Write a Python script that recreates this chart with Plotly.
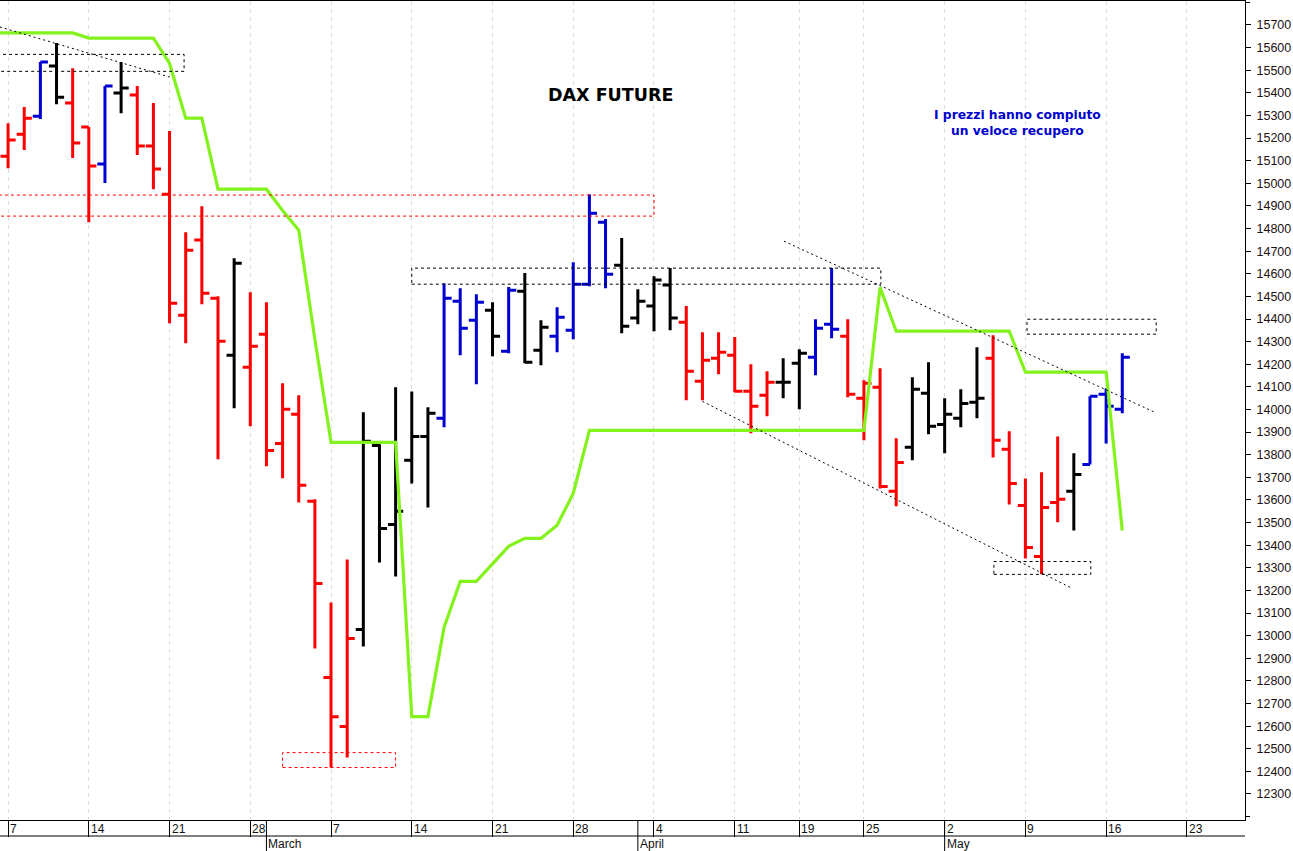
import plotly.graph_objects as go

# ---------------- data ----------------
dates = ["02-04",
         "02-07", "02-08", "02-09", "02-10", "02-11",
         "02-14", "02-15", "02-16", "02-17", "02-18",
         "02-21", "02-22", "02-23", "02-24", "02-25",
         "02-28", "03-01", "03-02", "03-03", "03-04",
         "03-07", "03-08", "03-09", "03-10", "03-11",
         "03-14", "03-15", "03-16", "03-17", "03-18",
         "03-21", "03-22", "03-23", "03-24", "03-25",
         "03-28", "03-29", "03-30", "03-31", "04-01",
         "04-04", "04-05", "04-06", "04-07", "04-08",
         "04-11", "04-12", "04-13", "04-14",
         "04-19", "04-20", "04-21", "04-22",
         "04-25", "04-26", "04-27", "04-28", "04-29",
         "05-02", "05-03", "05-04", "05-05", "05-06",
         "05-09", "05-10", "05-11", "05-12", "05-13",
         "05-16", "05-17"]

opens = [15180,
         15120, 15217, 15297, 15519, 15355,
         15249, 15085, 15399, 15390, 15165,
         14952, 14417, 14749, 14492, 14240,
         14187, 14333, 13850, 13979, 13594,
         12815, 12598, 13027, 13841, 13492,
         13775, 13881, 13961, 14479, 14395,
         14439, 14258, 14523, 14262, 14324,
         14350, 14554, 14828, 14638, 14404,
         14457, 14550, 14386, 14125, 14227,
         14240, 14081, 14063, 14120,
         14204, 14231, 14377, 14324,
         14050, 14098, 13638, 13833, 14072,
         13934, 13961, 14032, 14227, 13824,
         13576, 13350, 13589, 13638, 13757,
         14067, 14001]
highs = [15260,
         15266, 15337, 15536, 15620, 15509,
         15249, 15430, 15536, 15430, 15355,
         15231, 14784, 14899, 14501, 14669,
         14518, 14474, 14116, 14063, 13603,
         13147, 13337, 13988, 13846, 14098,
         14080, 14010, 14558, 14536, 14510,
         14474, 14541, 14603, 14395, 14452,
         14651, 14952, 14842, 14758, 14532,
         14589, 14625, 14457, 14342, 14342,
         14320, 14200, 14169, 14227,
         14266, 14399, 14625, 14399,
         14129, 14182, 13873, 14142, 14209,
         14050, 14089, 14275, 14328, 13904,
         13695, 13722, 13881, 13806, 14058,
         14094, 14249]
lows = [15090,
        15067, 15147, 15284, 15350, 15112,
        14828, 15001, 15310, 15125, 14974,
        14381, 14293, 14465, 13780, 14005,
        13926, 13749, 13696, 13589, 12943,
        12417, 12461, 12952, 13324, 13262,
        13673, 13567, 13921, 14240, 14112,
        14235, 14249, 14204, 14196, 14253,
        14311, 14545, 14536, 14337, 14377,
        14346, 14350, 14041, 14041, 14156,
        14076, 13895, 13970, 14050,
        14001, 14151, 14315, 14054,
        13864, 13651, 13572, 13775, 13890,
        13806, 13921, 13961, 13788, 13580,
        13341, 13271, 13501, 13465, 13757,
        13850, 13983]
closes = [15155,
          15191, 15288, 15536, 15381, 15178,
          15076, 15430, 15421, 15165, 15063,
          14470, 14704, 14514, 14302, 14647,
          14280, 13819, 14001, 13665, 13231,
          12642, 12988, 13860, 13474, 13550,
          13881, 13983, 14492, 14359, 14474,
          14324, 14527, 14209, 14364, 14408,
          14554, 14868, 14598, 14368, 14479,
          14572, 14404, 14169, 14218, 14253,
          14081, 14014, 14120, 14120,
          14249, 14359, 14355, 14067,
          14116, 13660, 13766, 14089, 13926,
          13979, 14027, 14050, 13864, 13673,
          13390, 13567, 13603, 13713, 14058,
          14014, 14231]
bar_colors = ["r",
              "r", "r", "b", "k", "r",
              "r", "b", "k", "r", "r",
              "r", "r", "r", "r", "k",
              "r", "r", "r", "r", "r",
              "r", "r", "k", "k", "k",
              "k", "k", "b", "b", "b",
              "k", "b", "k", "k", "b",
              "b", "b", "b", "k", "k",
              "k", "k", "r", "r", "r",
              "r", "r", "r", "k",
              "k", "b", "b", "r",
              "r", "r", "r", "k", "k",
              "k", "k", "k", "r", "r",
              "r", "r", "r", "k", "b",
              "b", "b"]
green_line = [15665,
              15665, 15665, 15665, 15665, 15665,
              15642, 15642, 15642, 15642, 15642,
              15530, 15288, 15288, 14974, 14974,
              14974, 14974, 14880, 14793, 14310,
              13855, 13855, 13855, 13855, 13855,
              12642, 12642, 13036, 13240, 13240,
              13320, 13395, 13430, 13430, 13488,
              13629, 13908, 13908, 13908, 13908,
              13908, 13908, 13908, 13908, 13908,
              13908, 13908, 13908, 13908,
              13908, 13908, 13908, 13908,
              13908, 14540, 14346, 14346, 14346,
              14346, 14346, 14346, 14346, 14346,
              14165, 14165, 14165, 14165, 14165,
              14165, 13465]

# trading-day index: Feb 4 = -1, Feb 7 = 0, ...
day_idx = list(range(-1, len(dates) - 1))

week_ticks = [0, 5, 10, 15, 20, 25, 30, 35, 40, 45, 49, 53, 58, 63, 68, 73]
week_labels = ["7", "14", "21", "28", "7", "14", "21", "28",
               "4", "11", "19", "25", "2", "9", "16", "23"]
month_ticks = [16, 39, 58]
month_labels = ["March", "April", "May"]

price_ticks = list(range(12300, 15701, 100))
price_minor = [v + 50 for v in range(12150, 15800, 100)]

# boxes: x0, x1, y0, y1, colour
boxes = [(-0.8, 10.9, 15495, 15570, "black"),
         (-0.8, 40.0, 14855, 14948, "red"),
         (25.0, 54.05, 14554, 14625, "black"),
         (17.0, 24.0, 12417, 12483, "red"),
         (63.1, 71.1, 14333, 14399, "black"),
         (61.05, 67.05, 13271, 13328, "black")]
# trend lines: x0, y0, x1, y1
trend_lines = [(-0.5, 15691, 10.0, 15470),
               (48.05, 14744, 71.0, 13988),
               (43.0, 14036, 65.9, 13209)]

COLS = {"r": "#ff0000", "b": "#0000d0", "k": "#000000"}

# ---------------- figure ----------------
fig = go.Figure()

for key in ["r", "b", "k"]:
    sel = [j for j, c in enumerate(bar_colors) if c == key]
    fig.add_trace(go.Ohlc(
        x=[day_idx[j] for j in sel],
        open=[opens[j] for j in sel],
        high=[highs[j] for j in sel],
        low=[lows[j] for j in sel],
        close=[closes[j] for j in sel],
        increasing=dict(line=dict(color=COLS[key], width=3)),
        decreasing=dict(line=dict(color=COLS[key], width=3)),
        tickwidth=0.47,
        hoverinfo="skip",
        showlegend=False,
    ))

fig.add_trace(go.Scatter(
    x=day_idx, y=green_line, mode="lines",
    line=dict(color="#84f21c", width=3.2),
    hoverinfo="skip", showlegend=False,
))

for (tx0, ty0, tx1, ty1) in trend_lines:
    fig.add_trace(go.Scatter(
        x=[tx0, tx1], y=[ty0, ty1], mode="lines",
        line=dict(color="black", width=1, dash="2px,3px"),
        hoverinfo="skip", showlegend=False,
    ))

shapes = []
for (bx0, bx1, by0, by1, bc) in boxes:
    shapes.append(dict(type="rect", xref="x", yref="y",
                       x0=bx0, x1=bx1, y0=by0, y1=by1,
                       line=dict(color=bc, width=1, dash="3px,3px"),
                       fillcolor="rgba(0,0,0,0)", layer="above"))

PLOT_H = 819.0
def py(px_below):  # paper y for pixels below plot bottom
    return -px_below / PLOT_H

# x axis label band
shapes.append(dict(type="line", xref="paper", yref="paper",
                   x0=0, x1=1, y0=py(16), y1=py(16),
                   line=dict(color="black", width=1)))
for m in month_ticks:
    shapes.append(dict(type="line", xref="x", yref="paper",
                       x0=m, x1=m, y0=0, y1=py(31),
                       line=dict(color="black", width=1)))

annotations = []
for t, lab in zip(week_ticks, week_labels):
    annotations.append(dict(x=t, y=0, xref="x", yref="paper",
                            xanchor="left", yanchor="top", xshift=0, yshift=0,
                            text=lab, showarrow=False,
                            font=dict(family="Liberation Sans", size=12, color="#111")))
for m, lab in zip(month_ticks, month_labels):
    annotations.append(dict(x=m, y=py(16), xref="x", yref="paper",
                            xanchor="left", yanchor="top", xshift=0, yshift=1,
                            text=lab, showarrow=False,
                            font=dict(family="Liberation Sans", size=12, color="#111")))

annotations.append(dict(x=37.3, y=15391, xref="x", yref="y",
                        text="<b>DAX FUTURE</b>", showarrow=False,
                        font=dict(family="DejaVu Sans", size=17.5, color="black")))
annotations.append(dict(x=62.5, y=15267, xref="x", yref="y",
                        text="<b>I prezzi hanno compiuto<br>un veloce recupero</b>",
                        showarrow=False,
                        font=dict(family="DejaVu Sans", size=12.3, color="#0000cc")))

fig.update_layout(
    width=1293, height=851,
    margin=dict(l=0, r=48, t=1, b=31),
    plot_bgcolor="white", paper_bgcolor="white",
    showlegend=False,
    shapes=shapes, annotations=annotations,
    xaxis=dict(range=[-0.5, 76.6], tickmode="array", tickvals=week_ticks,
               showticklabels=False, ticks="outside", ticklen=16,
               tickcolor="black", tickwidth=1,
               showgrid=True, gridcolor="#dcdcdc", griddash="4px,4px", gridwidth=1,
               showline=True, linecolor="black", linewidth=1, mirror=True,
               zeroline=False, rangeslider=dict(visible=False)),
    yaxis=dict(side="right", range=[12185, 15806], tickmode="array",
               tickvals=price_ticks, tickformat="d", ticks="outside", ticklen=5,
               tickcolor="black", showline=True, linecolor="black",
               showgrid=False, zeroline=False, ticklabelstandoff=3,
               minor=dict(tickmode="array", tickvals=price_minor, ticks="outside",
                          ticklen=4, tickcolor="black", showgrid=False),
               tickfont=dict(family="Liberation Sans", size=12.5, color="#221111")),
)

fig.write_html("out.html", config={"displayModeBar": False},
               post_script="document.body.style.margin='0';document.body.style.overflow='hidden';")
